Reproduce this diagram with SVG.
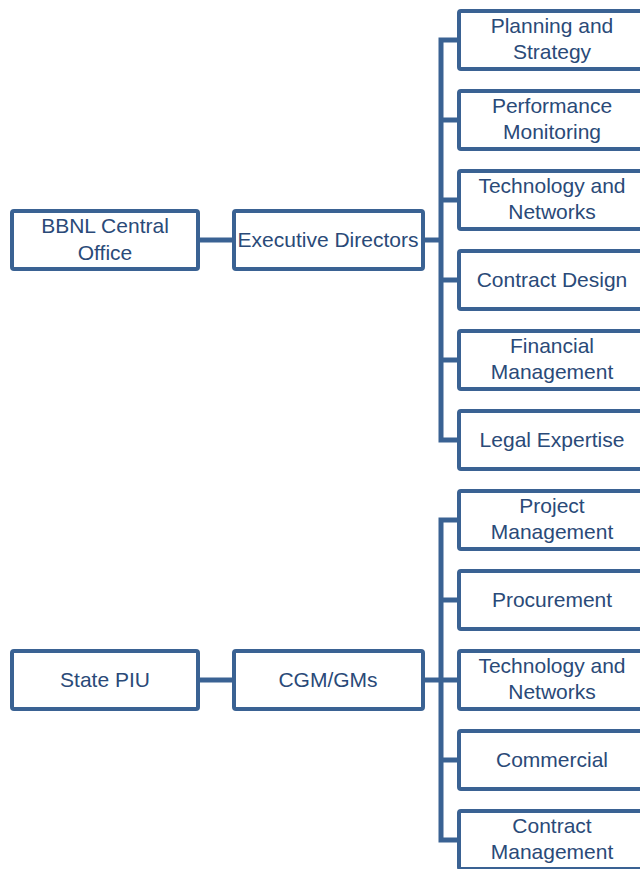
<svg xmlns="http://www.w3.org/2000/svg" width="640" height="869" viewBox="0 0 640 869">
  <style>
    .box { fill: #ffffff; stroke: #3a6293; stroke-width: 4; }
    .lbl { font-family: "Liberation Sans", Arial, sans-serif; font-size: 21px; fill: #2a4a78; text-anchor: middle; }
    .wire { fill: none; stroke: #3a6293; stroke-width: 5; stroke-linejoin: miter; }
  </style>
  <rect width="640" height="869" fill="#ffffff"/>

  <!-- connectors -->
  <g id="connectors">
    <!-- central office branch -->
    <path class="wire" d="M199 240 H234"/>
    <path class="wire" d="M423 240 H441"/>
    <path class="wire" d="M459 40 H441 V440 H459"/>
    <path class="wire" d="M441 120 H459 M441 200 H459 M441 280 H459 M441 360 H459"/>
    <!-- state PIU branch -->
    <path class="wire" d="M199 680 H234"/>
    <path class="wire" d="M423 680 H441"/>
    <path class="wire" d="M459 520 H441 V840 H459"/>
    <path class="wire" d="M441 600 H459 M441 680 H459 M441 760 H459"/>
  </g>

  <!-- central office -->
  <g id="bbnl-central-office">
    <rect class="box" x="12" y="211" width="186" height="58" rx="2"/>
    <text class="lbl" x="105" y="233">BBNL Central</text>
    <text class="lbl" x="105" y="260">Office</text>
  </g>
  <g id="executive-directors">
    <rect class="box" x="234" y="211" width="189" height="58" rx="2"/>
    <text class="lbl" x="328" y="247">Executive Directors</text>
  </g>
  <g id="planning-strategy">
    <rect class="box" x="459" y="11" width="187" height="58" rx="2"/>
    <text class="lbl" x="552" y="33">Planning and</text>
    <text class="lbl" x="552" y="59">Strategy</text>
  </g>
  <g id="performance-monitoring">
    <rect class="box" x="459" y="91" width="187" height="58" rx="2"/>
    <text class="lbl" x="552" y="113">Performance</text>
    <text class="lbl" x="552" y="139">Monitoring</text>
  </g>
  <g id="technology-networks-1">
    <rect class="box" x="459" y="171" width="187" height="58" rx="2"/>
    <text class="lbl" x="552" y="193">Technology and</text>
    <text class="lbl" x="552" y="219">Networks</text>
  </g>
  <g id="contract-design">
    <rect class="box" x="459" y="251" width="187" height="58" rx="2"/>
    <text class="lbl" x="552" y="287">Contract Design</text>
  </g>
  <g id="financial-management">
    <rect class="box" x="459" y="331" width="187" height="58" rx="2"/>
    <text class="lbl" x="552" y="353">Financial</text>
    <text class="lbl" x="552" y="379">Management</text>
  </g>
  <g id="legal-expertise">
    <rect class="box" x="459" y="411" width="187" height="58" rx="2"/>
    <text class="lbl" x="552" y="447">Legal Expertise</text>
  </g>

  <!-- state PIU -->
  <g id="state-piu">
    <rect class="box" x="12" y="651" width="186" height="58" rx="2"/>
    <text class="lbl" x="105" y="687">State PIU</text>
  </g>
  <g id="cgm-gms">
    <rect class="box" x="234" y="651" width="189" height="58" rx="2"/>
    <text class="lbl" x="328" y="687">CGM/GMs</text>
  </g>
  <g id="project-management">
    <rect class="box" x="459" y="491" width="187" height="58" rx="2"/>
    <text class="lbl" x="552" y="513">Project</text>
    <text class="lbl" x="552" y="539">Management</text>
  </g>
  <g id="procurement">
    <rect class="box" x="459" y="571" width="187" height="58" rx="2"/>
    <text class="lbl" x="552" y="607">Procurement</text>
  </g>
  <g id="technology-networks-2">
    <rect class="box" x="459" y="651" width="187" height="58" rx="2"/>
    <text class="lbl" x="552" y="673">Technology and</text>
    <text class="lbl" x="552" y="699">Networks</text>
  </g>
  <g id="commercial">
    <rect class="box" x="459" y="731" width="187" height="58" rx="2"/>
    <text class="lbl" x="552" y="767">Commercial</text>
  </g>
  <g id="contract-management">
    <rect class="box" x="459" y="811" width="187" height="58" rx="2"/>
    <text class="lbl" x="552" y="833">Contract</text>
    <text class="lbl" x="552" y="859">Management</text>
  </g>
</svg>
